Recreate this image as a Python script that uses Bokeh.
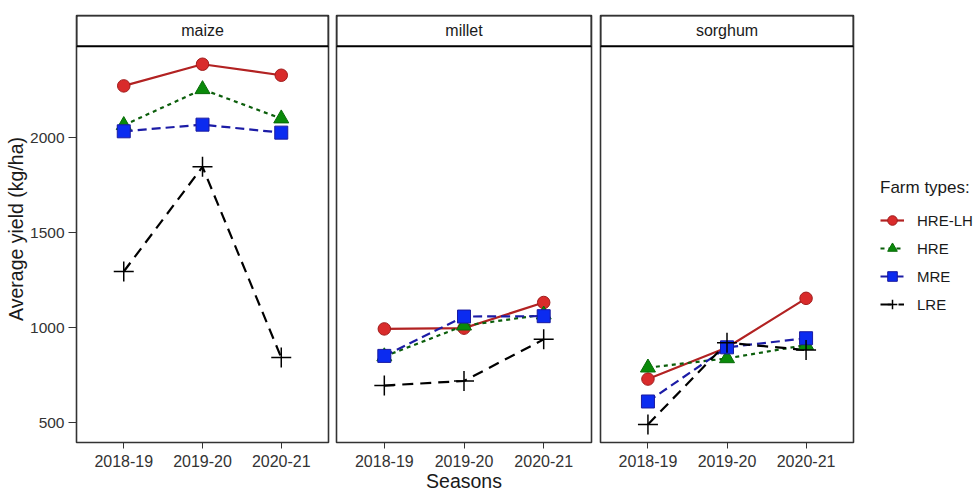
from bokeh.plotting import figure
from bokeh.models import (FactorRange, Range1d, FixedTicker, BoxAnnotation,
                          Legend, LegendItem)
from bokeh.layouts import row
from bokeh.core.properties import value
from bokeh.embed import file_html
from bokeh.resources import INLINE

# ---------------- data ----------------
seasons = ["2018-19", "2019-20", "2020-21"]
crops = ["maize", "millet", "sorghum"]
farm_types = ["HRE-LH", "HRE", "MRE", "LRE"]

hre_lh = {"maize": [2272, 2386, 2328], "millet": [993, 997, 1132], "sorghum": [729, 895, 1154]}
hre = {"maize": [2065, 2254, 2100], "millet": [848, 1010, 1068], "sorghum": [789, 838, 908]}
mre = {"maize": [2033, 2068, 2026], "millet": [851, 1058, 1060], "sorghum": [611, 896, 944]}
lre = {"maize": [1295, 1846, 842], "millet": [695, 719, 938], "sorghum": [490, 920, 882]}

y_ticks = [500, 1000, 1500, 2000]

series = [hre_lh, hre, mre, lre]

# ---------------- styles ----------------
FONT = "Liberation Sans"
styles = [
    dict(line_color="#B22222", dash="solid", marker="circle", size=12.5,
         fill="#D92B2B", mline="#A01C1C"),
    dict(line_color="#0B5E0B", dash="4 4", marker="triangle", size=15,
         fill="#0A8A0A", mline="#086A08"),
    dict(line_color="#1C1CA6", dash="9 5", marker="square", size=13,
         fill="#0B2BF0", mline="#1A1AA0"),
    dict(line_color="#000000", dash="11 7", marker="cross", size=20,
         fill="#000000", mline="#000000"),
]

all_vals = [v for s in series for c in crops for v in s[c]]
lo, hi = min(all_vals), max(all_vals)
span = hi - lo
y_lo = lo - 0.05 * span
y_hi = hi + 0.05 * span
data_px = 400
strip_px = 31
y_top = y_hi + strip_px * (y_hi - y_lo) / data_px
strip_mid = (y_hi + y_top) / 2

H = 494
TOP = 15
BOTTOM = H - TOP - data_px - strip_px
frame_w = [252, 255, 253]
borders = [(76, 4), (4, 4), (5, 5)]


def draw_series(p, crop):
    line_rs, point_rs = [], []
    for s, st in zip(series, styles):
        lr = p.line(seasons, s[crop], line_color=st["line_color"], line_width=2.2,
                    line_dash=st["dash"])
        line_rs.append(lr)
    for s, st in zip(series, styles):
        if st["marker"] == "cross":
            sr = p.scatter(seasons, s[crop], marker="cross", size=st["size"],
                           line_color="black", line_width=1.5)
        else:
            sr = p.scatter(seasons, s[crop], marker=st["marker"], size=st["size"],
                           fill_color=st["fill"], line_color=st["mline"], line_width=1)
        point_rs.append(sr)
    return line_rs, point_rs


figs = []
for i, crop in enumerate(crops):
    p = figure(x_range=FactorRange(factors=seasons, range_padding=0.2 / 3),
               y_range=Range1d(y_lo, y_top),
               width=borders[i][0] + frame_w[i] + borders[i][1], height=H,
               output_backend="svg", toolbar_location=None,
               y_axis_location="left" if i == 0 else None,
               min_border_left=borders[i][0], min_border_right=borders[i][1],
               min_border_top=TOP, min_border_bottom=BOTTOM,
               background_fill_color="white", border_fill_color="white")
    p.xgrid.visible = False
    p.ygrid.visible = False
    p.outline_line_color = "#333333"
    p.outline_line_width = 1.6

    # strip header
    p.add_layout(BoxAnnotation(bottom=y_hi, fill_color="white", fill_alpha=1,
                               line_color="black", line_alpha=1, line_width=2,
                               level="underlay"))
    p.text(x=[seasons[1]], y=[strip_mid], text=[crop], text_align="center",
           text_baseline="middle", text_font=value(FONT), text_font_size="16px",
           text_color="#1a1a1a")

    draw_series(p, crop)

    xa = p.xaxis[0]
    xa.axis_line_color = None
    xa.major_tick_line_color = "#333333"
    xa.major_tick_out = 6
    xa.major_tick_in = 0
    xa.minor_tick_line_color = None
    xa.major_label_text_font = FONT
    xa.major_label_text_font_size = "16px"
    xa.major_label_text_color = "#333333"
    xa.major_label_standoff = 6
    if i == 1:
        xa.axis_label = "Seasons"
        xa.axis_label_text_font = FONT
        xa.axis_label_text_font_size = "19.5px"
        xa.axis_label_text_font_style = "normal"
        xa.axis_label_text_color = "#1a1a1a"
        xa.axis_label_standoff = 0
    if i == 0:
        ya = p.yaxis[0]
        ya.ticker = FixedTicker(ticks=y_ticks)
        ya.axis_line_color = None
        ya.major_tick_line_color = "#333333"
        ya.major_tick_out = 8
        ya.major_tick_in = 0
        ya.minor_tick_line_color = None
        ya.major_label_text_font = FONT
        ya.major_label_text_font_size = "15.5px"
        ya.major_label_text_color = "#333333"
        ya.major_label_standoff = 4
        ya.axis_label = "Average yield (kg/ha)"
        ya.axis_label_text_font = FONT
        ya.axis_label_text_font_size = "19.5px"
        ya.axis_label_text_font_style = "normal"
        ya.axis_label_text_color = "#1a1a1a"
        ya.axis_label_standoff = 0
    figs.append(p)

# ---- legend canvas to the right of the facets (its series lie outside its view) ----
used = sum(f.width for f in figs)
lp = figure(x_range=FactorRange(factors=seasons), y_range=Range1d(-2, -1),
            width=975 - used, height=H, output_backend="svg", toolbar_location=None,
            x_axis_location=None, y_axis_location=None,
            min_border_left=0, min_border_right=0, min_border_top=0, min_border_bottom=0,
            background_fill_color="white", border_fill_color="white")
lp.xgrid.visible = False
lp.ygrid.visible = False
lp.outline_line_color = None
l_rs, p_rs = draw_series(lp, crops[-1])
items = [LegendItem(label=ft, renderers=[l_rs[k], p_rs[k]]) for k, ft in enumerate(farm_types)]
legend = Legend(items=items, location=(22, 124), title="Farm types:",
                title_text_font=FONT, title_text_font_size="17px",
                title_text_font_style="normal", title_text_color="#1a1a1a",
                title_standoff=8,
                label_text_font=FONT, label_text_font_size="15px",
                label_text_color="#1a1a1a",
                glyph_width=24, glyph_height=28, label_height=28,
                label_standoff=13, spacing=0, padding=2, margin=0,
                border_line_color=None, background_fill_alpha=0)
lp.add_layout(legend, "center")
figs.append(lp)

layout = row(*figs)
open("out.html", "w").write(file_html(layout, INLINE))
